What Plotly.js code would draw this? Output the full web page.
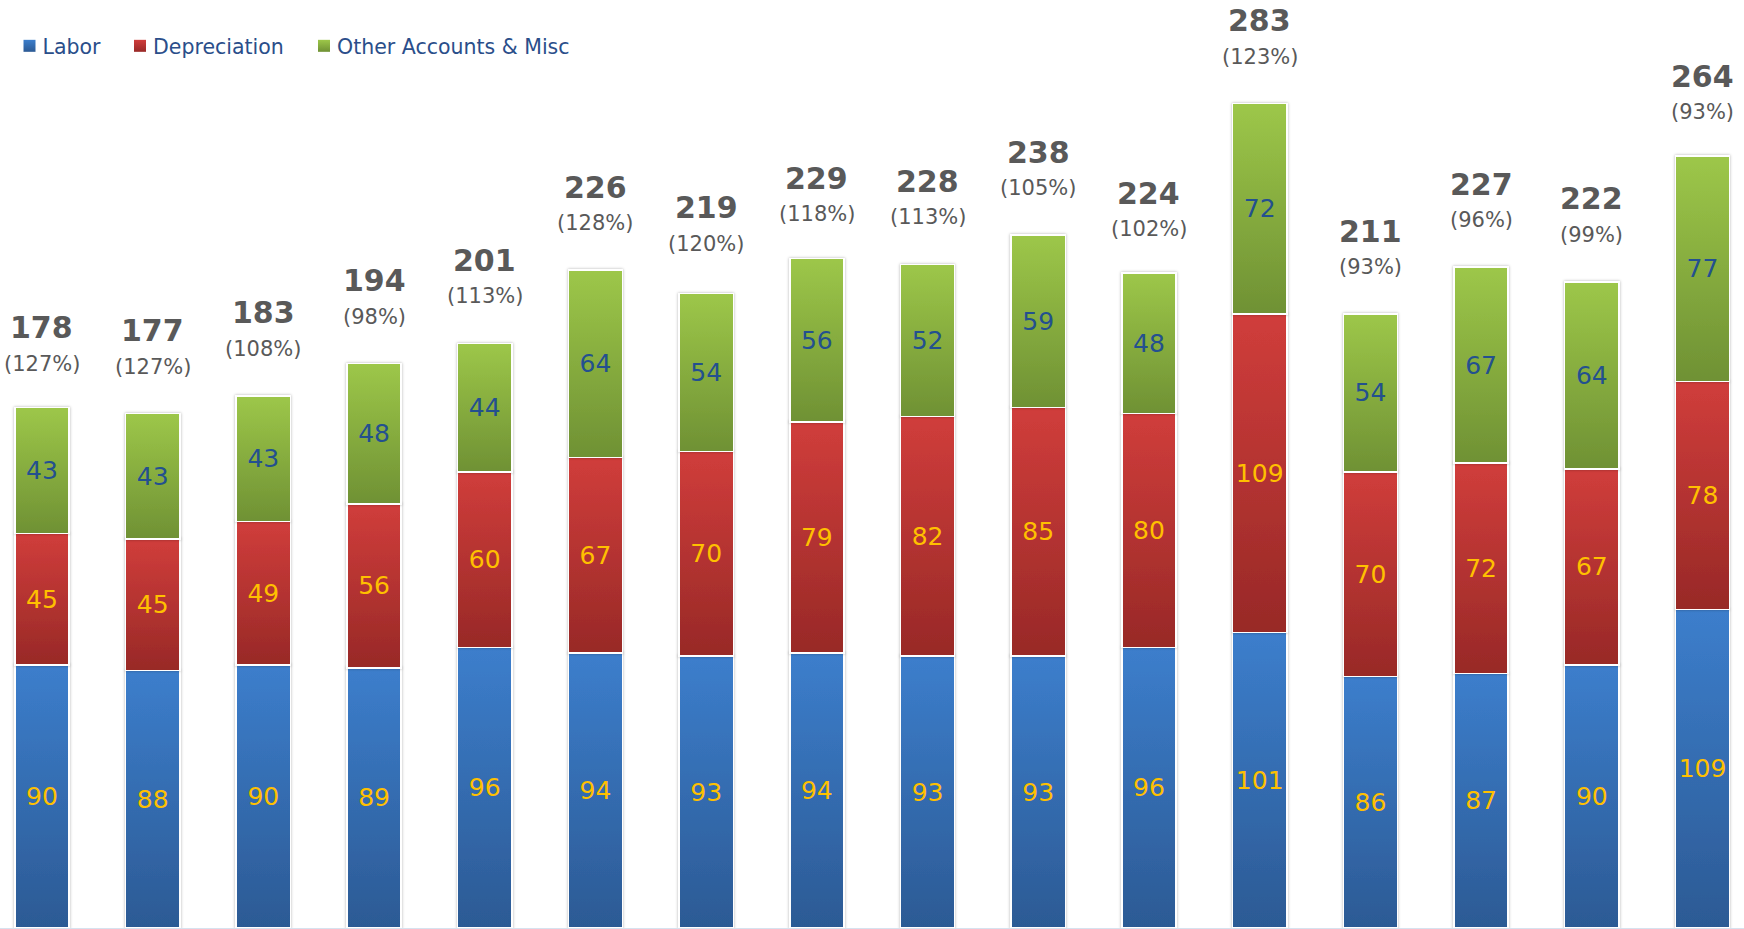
<!DOCTYPE html>
<html>
<head>
<meta charset="utf-8">
<script src="https://cdn.plot.ly/plotly-3.0.1.min.js"></script>
<style>
html,body{margin:0;padding:0;background:#fff;overflow:hidden;}
#chart{width:1744px;height:929px;}
</style>
</head>
<body>
<div id="chart"></div>
<script>
// ---- data ----
const categories = ["P1","P2","P3","P4","P5","P6","P7","P8","P9","P10","P11","P12","P13","P14","P15","P16"];
const labor        = [90, 88, 90, 89, 96, 94, 93, 94, 93, 93, 96, 101, 86, 87, 90, 109];
const depreciation = [45, 45, 49, 56, 60, 67, 70, 79, 82, 85, 80, 109, 70, 72, 67, 78];
const otherMisc    = [43, 43, 43, 48, 44, 64, 54, 56, 52, 59, 48, 72, 54, 67, 64, 77];
const totals       = [178, 177, 183, 194, 201, 226, 219, 229, 228, 238, 224, 283, 211, 227, 222, 264];
const percents     = ["127%", "127%", "108%", "98%", "113%", "128%", "120%", "118%", "113%", "105%", "102%", "123%", "93%", "96%", "99%", "93%"];
const seriesNames  = ["Labor", "Depreciation", "Other Accounts & Misc"];

const FONT = "DejaVu Sans, Verdana, sans-serif";
const gradients = [
  ["#3c7ecc", "#2c5a94"],
  ["#d03d3b", "#982927"],
  ["#9dc749", "#6f9134"]
];
const midColors = ["#3470b5", "#b83432", "#87ad40"];
const textColors = ["#ffc000", "#ffc000", "#23508f"];

function barTrace(name, vals, idx) {
  return {
    type: "bar",
    name: name,
    x: categories,
    y: vals,
    text: vals.map(String),
    textposition: "inside",
    insidetextanchor: "middle",
    constraintext: "none",
    textfont: {family: FONT, size: 25, color: textColors[idx]},
    marker: {color: midColors[idx], line: {color: "#ffffff", width: 1.5}},
    hoverinfo: "skip"
  };
}

const data = [
  barTrace(seriesNames[0], labor, 0),
  barTrace(seriesNames[1], depreciation, 1),
  barTrace(seriesNames[2], otherMisc, 2)
];

const annotations = [];
categories.forEach((c, i) => {
  annotations.push({
    x: c, y: totals[i], xref: "x", yref: "y",
    text: "<b>" + totals[i] + "</b>",
    showarrow: false, yanchor: "middle", yshift: 80,
    font: {family: FONT, size: 30, color: "#595959"}
  });
  annotations.push({
    x: c, y: totals[i], xref: "x", yref: "y",
    text: "(" + percents[i] + ")",
    showarrow: false, yanchor: "middle", yshift: 44,
    font: {family: FONT, size: 21, color: "#595959"}
  });
});

const layout = {
  width: 1744, height: 929,
  margin: {l: 0, r: 0, t: 0, b: 1, pad: 0},
  paper_bgcolor: "#ffffff",
  plot_bgcolor: "#ffffff",
  barmode: "stack",
  bargap: 0.51,
  showlegend: true,
  legend: {
    orientation: "h",
    x: 0.004, xanchor: "left",
    y: 1 - 46 / 928, yanchor: "middle",
    bgcolor: "rgba(0,0,0,0)",
    itemwidth: 30,
    traceorder: "normal",
    font: {family: FONT, size: 20.5, color: "#2a4e8a"}
  },
  xaxis: {
    type: "category",
    range: [-0.379, 15.375],
    showticklabels: false, ticks: "",
    showgrid: false, zeroline: false,
    showline: true, linecolor: "#d6e2ef", linewidth: 1
  },
  yaxis: {
    range: [0, 317.4],
    showticklabels: false, ticks: "",
    showgrid: false, zeroline: false, showline: false
  },
  annotations: annotations,
  hovermode: false
};

Plotly.newPlot("chart", data, layout, {staticPlot: true, displayModeBar: false}).then(function (gd) {
  const svg = gd.querySelector("svg.main-svg");
  const NS = "http://www.w3.org/2000/svg";
  const defs = document.createElementNS(NS, "defs");
  gradients.forEach((g, i) => {
    const lg = document.createElementNS(NS, "linearGradient");
    lg.setAttribute("id", "grad" + i);
    lg.setAttribute("x1", "0"); lg.setAttribute("y1", "0");
    lg.setAttribute("x2", "0"); lg.setAttribute("y2", "1");
    [[0, g[0]], [1, g[1]]].forEach(s => {
      const st = document.createElementNS(NS, "stop");
      st.setAttribute("offset", s[0]);
      st.setAttribute("stop-color", s[1]);
      lg.appendChild(st);
    });
    defs.appendChild(lg);
  });
  const flt = document.createElementNS(NS, "filter");
  flt.setAttribute("id", "barshadow");
  flt.setAttribute("x", "-20%"); flt.setAttribute("y", "-5%");
  flt.setAttribute("width", "140%"); flt.setAttribute("height", "110%");
  const ds = document.createElementNS(NS, "feDropShadow");
  ds.setAttribute("dx", "0"); ds.setAttribute("dy", "0");
  ds.setAttribute("stdDeviation", "1.6");
  ds.setAttribute("flood-color", "#000");
  ds.setAttribute("flood-opacity", "0.3");
  flt.appendChild(ds);
  defs.appendChild(flt);
  svg.insertBefore(defs, svg.firstChild);

  const traces = gd.querySelectorAll(".barlayer .trace");
  traces.forEach((t, i) => {
    t.querySelectorAll(".point path").forEach(p => {
      p.style.fill = "url(#grad" + i + ")";
      p.setAttribute("filter", "url(#barshadow)");
    });
  });

  // legend: gradient symbols, tighter symbol-text gap, wider item spacing
  gd.querySelectorAll(".legend .scrollbox, .legend [clip-path]").forEach(el => el.removeAttribute("clip-path"));
  const markerTargets = [29.5, 140, 324];
  const legendItems = gd.querySelectorAll(".legend .traces");
  legendItems.forEach((t, i) => {
    const sym = t.querySelector(".legendpoints path");
    if (sym) {
      sym.style.fill = "url(#grad" + i + ")";
      sym.style.stroke = "none";
    }
    const txt = t.querySelector("text.legendtext");
    if (txt) {
      const x0 = parseFloat(txt.getAttribute("x") || "40");
      txt.setAttribute("x", x0 - 7);
    }
    if (sym) {
      const r = sym.getBoundingClientRect();
      const cx = r.left + r.width / 2;
      const dx = markerTargets[i] - cx;
      const tr = t.getAttribute("transform") || "";
      const m = tr.match(/translate\(\s*([-\d.]+)[ ,]+([-\d.]+)\s*\)/);
      if (m) {
        t.setAttribute("transform", "translate(" + (parseFloat(m[1]) + dx) + "," + m[2] + ")");
      }
    }
  });
});
</script>
</body>
</html>
